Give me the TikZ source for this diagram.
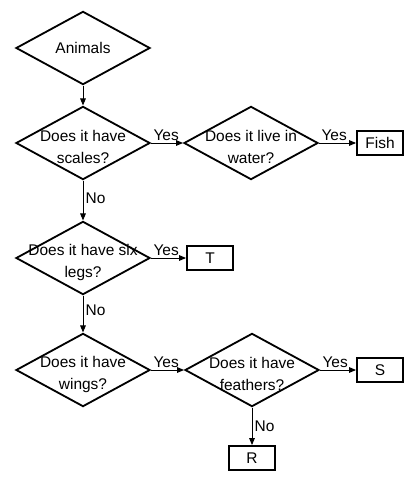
\documentclass[tikz,border=0pt]{standalone}
\usepackage{fontspec}
\setmainfont{Liberation Sans}
\usetikzlibrary{shapes.geometric,arrows.meta}
\begin{document}
\begin{tikzpicture}[x=0.025cm, y=-0.025cm, >={Triangle[length=5pt,width=4pt]}]
            \tikzstyle{decision}=[diamond, draw, line width=1.3pt, minimum width=3.35cm, minimum height=1.83cm, inner sep=0pt]
            \tikzstyle{answer}=[rectangle, draw, line width=1.3pt, minimum width=1.15cm, minimum height=0.6cm, inner sep=0pt, font=\fontsize{11}{13}\selectfont]
            \tikzstyle{question}=[align=center, inner sep=0pt, font=\fontsize{11}{15.5}\selectfont]
            \tikzstyle{linenode}=[inner sep=1.5pt, font=\fontsize{11}{13}\selectfont]
            \useasboundingbox (0,0) rectangle (416,486);
            \node[decision, label={[question]center:Animals}] (animals) at (83,48) {};
            \node[decision, label={[question, yshift=-3pt]center:Does it have\\scales?}] (scales) at (83,143) {};
            \node[decision, label={[question, yshift=-3pt]center:Does it live in\\water?}] (water) at (251,143) {};
            \node[answer] (fish) at (380,143) {Fish};
            \node[decision, label={[question, yshift=-3pt]center:Does it have six\\legs?}] (legs) at (83,258) {};
            \node[answer] (T) at (210,258) {T};
            \node[decision, label={[question, yshift=-3pt]center:Does it have\\wings?}] (wings) at (83,370) {};
            \node[decision, label={[question, yshift=-3pt]center:Does it have\\feathers?}] (feathers) at (252,370) {};
            \node[answer] (S) at (380,370) {S};
            \node[answer] (R) at (252,458) {R};
            \path [->, line width=0.7pt] (animals) edge[] (scales);
            \path [->, line width=0.7pt] (scales) edge[] node[linenode, pos=0, anchor=south west] {Yes} (water);
            \path [->, line width=0.7pt] (water) edge[] node[linenode, pos=0, anchor=south west] {Yes} (fish);
            \path [->, line width=0.7pt] (scales) edge[] node[linenode, pos=0.45, anchor=west] {No} (legs);
            \path [->, line width=0.7pt] (legs) edge[] node[linenode, pos=0, anchor=south west] {Yes} (T);
            \path [->, line width=0.7pt] (legs) edge[] node[linenode, pos=0.4, anchor=west] {No} (wings);
            \path [->, line width=0.7pt] (wings) edge[] node[linenode, pos=0, anchor=south west] {Yes} (feathers);
            \path [->, line width=0.7pt] (feathers) edge[] node[linenode, pos=0, anchor=south west] {Yes} (S);
            \path [->, line width=0.7pt] (feathers) edge[] node[linenode, pos=0.5, anchor=west] {No} (R);
\end{tikzpicture}
\end{document}
